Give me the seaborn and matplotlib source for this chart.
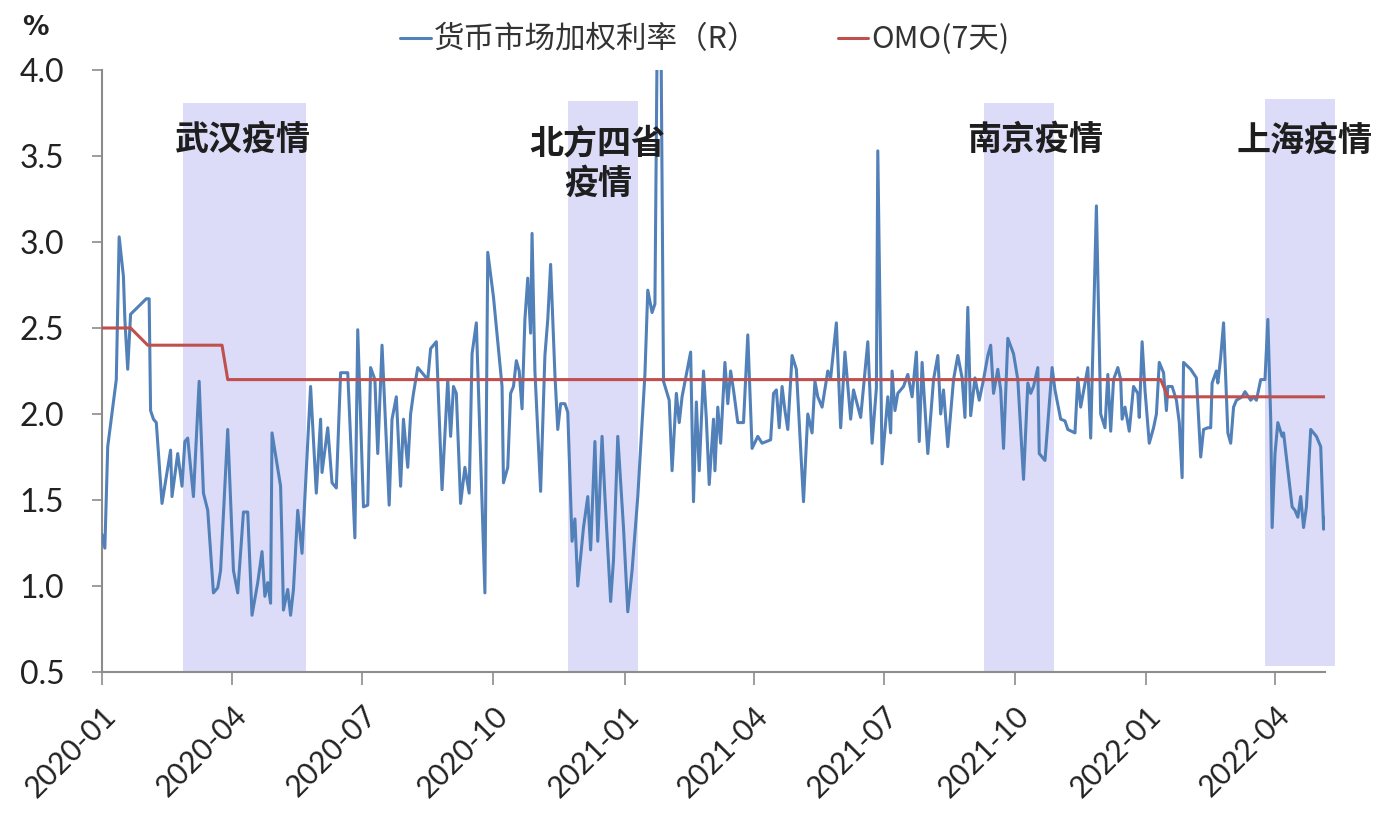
import numpy as np
import pandas as pd
import matplotlib
matplotlib.use("Agg")
import matplotlib.pyplot as plt
import matplotlib.dates as mdates
import seaborn as sns

# ---------------- data ----------------
start_date = "2020-01-01"

rate_day = [0, 2, 4, 10, 12, 15, 16, 18, 20, 31, 33, 34, 36, 38, 42, 48, 49, 53, 56, 58,
            60, 64, 68, 71, 74, 78, 81, 83, 88, 92, 95, 99, 102, 105, 109, 112, 114, 116, 118, 119,
            125, 126, 127, 130, 132, 134, 137, 140, 146, 150, 153, 154, 158, 161, 164, 167, 172, 177, 179, 183,
            186, 188, 191, 193, 196, 201, 203, 206, 209, 211, 214, 216, 218, 221, 228, 230, 234, 238, 242, 244,
            246, 248, 251, 254, 257, 259, 262, 265, 268, 270, 274, 277, 280, 281, 284, 286, 288, 290, 292, 294,
            296, 298, 300, 301, 303, 307, 310, 312, 314, 317, 319, 321, 324, 326, 329, 331, 333, 337, 340, 342,
            345, 347, 350, 352, 356, 358, 361, 365, 368, 371, 375, 377, 380, 382, 385, 387, 389, 391, 393, 397,
            399, 402, 404, 406, 412, 414, 416, 418, 421, 423, 425, 428, 429, 431, 433, 436, 438, 440, 442, 445,
            449, 452, 455, 459, 462, 468, 470, 472, 474, 476, 478, 480, 483, 486, 491, 494, 497, 499, 501, 504,
            508, 510, 514, 517, 520, 524, 526, 531, 536, 539, 542, 543, 546, 550, 552, 553, 555, 557, 561, 564,
            567, 570, 572, 574, 576, 578, 582, 585, 587, 589, 592, 596, 599, 602, 604, 606, 608, 611, 614, 617,
            620, 622, 624, 627, 629, 631, 634, 638, 641, 645, 648, 650, 652, 655, 656, 660, 665, 667, 671, 674,
            676, 681, 683, 685, 690, 692, 696, 699, 702, 704, 706, 708, 711, 713, 714, 716, 719, 722, 725, 726,
            728, 730, 733, 736, 738, 740, 743, 745, 746, 749, 752, 754, 756, 757, 762, 766, 769, 771, 774, 776,
            777, 780, 781, 783, 785, 788, 790, 792, 794, 798, 800, 804, 806, 808, 811, 814, 816, 818, 819, 821,
            823, 826, 827, 833, 835, 837, 839, 841, 843, 846, 850, 853, 855, 856]

rate_value = [1.30, 1.22, 1.81, 2.20, 3.03, 2.80, 2.55, 2.26, 2.58, 2.67, 2.67, 2.02, 1.97, 1.95, 1.48, 1.79, 1.52, 1.77, 1.58, 1.84,
              1.86, 1.52, 2.19, 1.54, 1.44, 0.96, 0.99, 1.09, 1.91, 1.09, 0.96, 1.43, 1.43, 0.83, 1.02, 1.20, 0.94, 1.02, 0.90, 1.89,
              1.58, 1.25, 0.86, 0.98, 0.83, 0.98, 1.44, 1.19, 2.16, 1.54, 1.97, 1.66, 1.92, 1.60, 1.57, 2.24, 2.24, 1.28, 2.49, 1.46,
              1.47, 2.27, 2.20, 1.77, 2.40, 1.47, 1.97, 2.10, 1.58, 1.97, 1.69, 2.00, 2.12, 2.27, 2.20, 2.38, 2.42, 1.56, 2.20, 1.87,
              2.16, 2.12, 1.48, 1.69, 1.54, 2.35, 2.53, 1.75, 0.96, 2.94, 2.68, 2.42, 2.16, 1.60, 1.69, 2.12, 2.16, 2.31, 2.25, 2.03,
              2.55, 2.79, 2.47, 3.05, 2.25, 1.55, 2.34, 2.55, 2.87, 2.23, 1.91, 2.06, 2.06, 2.01, 1.26, 1.39, 1.00, 1.34, 1.52, 1.21,
              1.84, 1.26, 1.87, 1.52, 0.91, 1.15, 1.87, 1.34, 0.85, 1.09, 1.52, 1.80, 2.23, 2.72, 2.59, 2.64, 4.60, 4.50, 2.19, 2.08,
              1.67, 2.12, 1.95, 2.10, 2.36, 1.49, 2.07, 1.67, 2.25, 1.97, 1.59, 1.97, 1.67, 2.04, 1.83, 2.30, 2.06, 2.25, 2.14, 1.95,
              1.95, 2.46, 1.80, 1.87, 1.83, 1.85, 2.12, 2.14, 1.92, 2.16, 2.02, 1.91, 2.34, 2.26, 1.49, 2.00, 1.89, 2.19, 2.10, 2.04,
              2.25, 2.21, 2.53, 1.92, 2.36, 1.97, 2.14, 1.98, 2.42, 1.83, 2.15, 3.53, 1.71, 2.10, 1.89, 2.25, 2.02, 2.12, 2.16, 2.23,
              2.10, 2.36, 1.84, 2.30, 2.04, 1.77, 2.20, 2.34, 2.00, 2.14, 1.81, 2.20, 2.34, 2.21, 1.98, 2.62, 1.99, 2.21, 2.08, 2.20,
              2.34, 2.40, 2.12, 2.26, 2.14, 1.80, 2.44, 2.35, 2.20, 1.62, 2.18, 2.12, 2.16, 2.27, 1.77, 1.73, 2.27, 2.14, 1.97, 1.96,
              1.91, 1.89, 2.21, 2.04, 2.27, 1.86, 3.21, 2.00, 1.92, 2.23, 1.90, 2.20, 2.27, 2.20, 1.97, 2.04, 1.90, 2.16, 2.12, 1.98,
              2.42, 2.14, 1.83, 1.92, 2.00, 2.30, 2.24, 2.02, 2.16, 2.16, 2.08, 1.95, 1.63, 2.30, 2.26, 2.21, 1.75, 1.91, 1.92, 1.92,
              2.18, 2.25, 2.18, 2.33, 2.53, 1.89, 1.83, 2.04, 2.08, 2.10, 2.13, 2.08, 2.10, 2.08, 2.20, 2.20, 2.55, 1.97, 1.34, 1.77,
              1.95, 1.87, 1.89, 1.46, 1.44, 1.40, 1.52, 1.34, 1.46, 1.91, 1.87, 1.81, 1.33, 1.40]

omo_day = [0, 20, 32, 84, 88, 741, 746, 856]
omo_value = [2.5, 2.5, 2.4, 2.4, 2.2, 2.2, 2.1, 2.1]

series_names = ["货币市场加权利率（R）", "OMO(7天)"]

event_labels = ["武汉疫情", "北方四省\n疫情", "南京疫情", "上海疫情"]
event_start_day = [57, 326, 617, 814]
event_end_day = [143, 375, 666, 863]

tick_labels = ["2020-01", "2020-04", "2020-07", "2020-10", "2021-01",
               "2021-04", "2021-07", "2021-10", "2022-01", "2022-04"]
y_ticks = [0.5, 1.0, 1.5, 2.0, 2.5, 3.0, 3.5, 4.0]

# ---------------- build ----------------
base = pd.Timestamp(start_date)
df_rate = pd.DataFrame({"date": base + pd.to_timedelta(rate_day, unit="D"),
                        "value": rate_value})
df_omo = pd.DataFrame({"date": base + pd.to_timedelta(omo_day, unit="D"),
                       "value": omo_value})

sns.set_theme(style="white")
plt.rcParams["font.family"] = ["Lato", "Noto Sans CJK SC", "DejaVu Sans"]

fig = plt.figure(figsize=(13.79, 8.13), dpi=100)
ax = fig.add_axes([102 / 1379, 1 - 672 / 813, (1325 - 102) / 1379, (672 - 70) / 813])

BLUE = "#5280b8"
RED = "#c0504d"
SHADE = "#dcdcf8"
YMIN, YMAX = 0.5, 4.0

# shaded epidemic periods
span_tops = [3.81, 3.82, 3.81, 3.83]
span_bottoms = [0.5, 0.5, 0.5, 0.535]
for s, e, top, bot in zip(event_start_day, event_end_day, span_tops, span_bottoms):
    ax.axvspan(base + pd.Timedelta(days=s), base + pd.Timedelta(days=e),
               ymin=(bot - YMIN) / (YMAX - YMIN), ymax=(top - YMIN) / (YMAX - YMIN),
               color=SHADE, lw=0, zorder=0, clip_on=False)

sns.lineplot(data=df_rate, x="date", y="value", ax=ax, color=BLUE, lw=2.2,
             label=series_names[0], zorder=3)
sns.lineplot(data=df_omo, x="date", y="value", ax=ax, color=RED, lw=2.2,
             label=series_names[1], zorder=4)

ax.set_xlim(base, base + pd.Timedelta(days=856))
ax.set_ylim(YMIN, YMAX)
ax.set_xlabel("")
ax.set_ylabel("")

# ticks
tick_dates = [pd.Timestamp(t + "-01") for t in tick_labels]
ax.set_xticks(tick_dates)
ax.set_xticklabels(tick_labels, rotation=45, ha="right", rotation_mode="anchor",
                   fontsize=21.5, color="#222222", family="Lato")
ax.set_yticks(y_ticks)
ax.set_yticklabels([f"{v:.1f}" for v in y_ticks], fontsize=23, color="#222222", family="Lato")
ax.tick_params(axis="y", direction="out", length=7, width=1.2, color="#8c8c8c", pad=20, left=True)
ax.tick_params(axis="x", direction="out", length=9, width=1.2, color="#8c8c8c", pad=12, bottom=True)

for side in ["top", "right"]:
    ax.spines[side].set_visible(False)
for side in ["left", "bottom"]:
    ax.spines[side].set_color("#8c8c8c")
    ax.spines[side].set_linewidth(1.5)

# event labels
label_pos = [(98.7, 3.60), (347, 3.46), (653, 3.60), (842, 3.59)]
for txt, (d, y) in zip(event_labels, label_pos):
    ax.text(base + pd.Timedelta(days=d), y, txt, ha="center", va="center",
            fontsize=24.5, fontweight="bold", color="#1e1e1e",
            family=["Noto Sans CJK SC"], linespacing=1.2, zorder=5, clip_on=False)

# legend
handles, labels = ax.get_legend_handles_labels()
ax.legend_.remove()
fig.legend(handles, labels, loc="center", bbox_to_anchor=(0.511, 0.951), ncol=2,
           frameon=False, handlelength=1.0, handletextpad=0.1, columnspacing=2.6,
           prop={"family": ["Noto Sans CJK SC"], "size": 22})
for t in fig.legends[0].get_texts():
    t.set_color("#333333")

fig.text(0.026, 0.9656, "%", ha="center", va="center", fontsize=19,
         fontweight="bold", color="#222222", family=["DejaVu Sans"])

fig.savefig("out.png", dpi=100)
